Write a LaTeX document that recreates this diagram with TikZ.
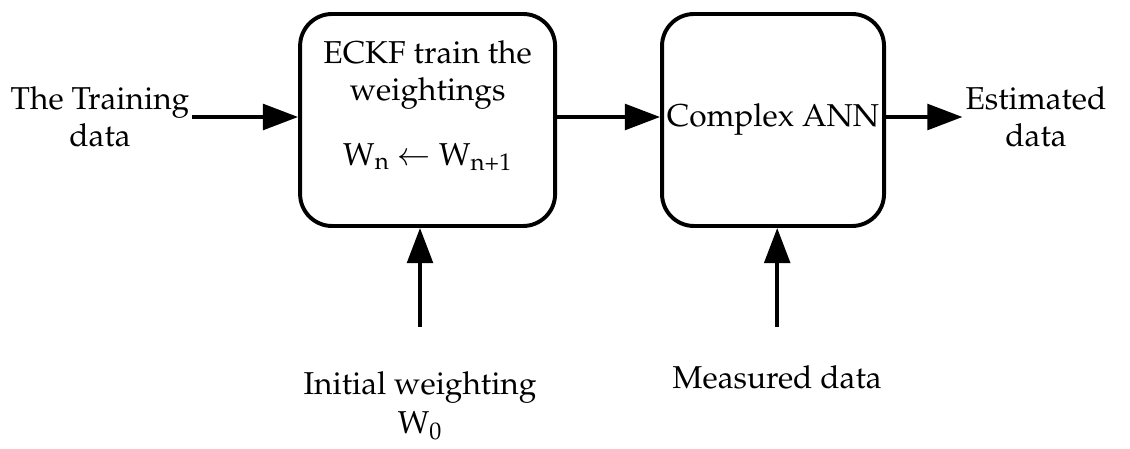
\documentclass[tikz,border=0pt]{standalone}
\usepackage[T1]{fontenc}
\usepackage{mathpazo}
\usetikzlibrary{positioning,calc}
\usetikzlibrary{arrows.meta}

\begin{document}
\begin{tikzpicture}[
         every node/.style = {font=\fontsize{22.5}{26.3}\selectfont},
         block/.style = {draw, line width=2.8pt, rounded corners=0.8cm,
         minimum height=5.3cm},
         label/.style = {align=center, inner sep=2pt},
         flow/.style = {line width=2.8pt,
         -{Triangle[length=0.88cm,width=0.64cm]}}
]
   \useasboundingbox (0,0) rectangle (28.25,11.225);

   % the two blocks
   \node[block, minimum width=6.375cm] (ecf) at (10.69,8.225) {};
   \node[block, minimum width=5.55cm, right=2.575cm of ecf] (ann) {};

   % block texts
   \node[label] (ecftext) at ([yshift=0.36cm]ecf.center)
      {ECKF train the\\weightings\\[20pt]
       W\textsubscript{n} $\leftarrow$ W\textsubscript{n+1}};
   \node[label] (anntext) at ([yshift=0.02cm]ann.center) {Complex ANN};

   % inputs and output
   \node[label] (train) at (2.5,8.3)   {The Training\\data};
   \node[label] (est)   at (25.9,8.3)  {Estimated\\data};
   \node[label] (init)  at (10.5,1.08) {Initial weighting\\[1pt]W\textsubscript{0}};
   \node[label] (meas)  at (19.43,1.78) {Measured data};

   % free ends of the upward arrows
   \coordinate (initin) at (10.5,3.05);
   \coordinate (measin) at (19.43,3.05);

   \draw[flow] (train.east) -- (train.east -| ecf.west);
   \draw[flow] (ecf.east |- train.east) -- (ann.west |- train.east);
   \draw[flow] (ann.east |- est.west) -- (est.west);
   \draw[flow] (initin) -- (initin |- ecf.south);
   \draw[flow] (measin) -- (measin |- ann.south);
\end{tikzpicture}
\end{document}
